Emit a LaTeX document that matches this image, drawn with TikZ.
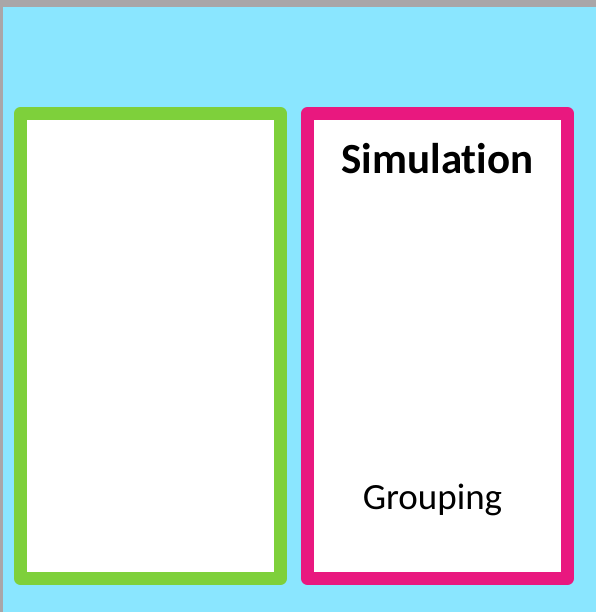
\documentclass[tikz,border=0pt]{standalone}
\usepackage{fontspec}
\setmainfont{Carlito}[Ligatures={NoCommon,NoDiscretionary}]
\usepackage{tikz}
\usetikzlibrary{positioning}
\definecolor{skyblue}{HTML}{8AE6FF}
\definecolor{framegray}{HTML}{A9A6A8}
\definecolor{leafgreen}{HTML}{7ED03B}
\definecolor{hotpink}{HTML}{E9187F}

\begin{document}
\begin{tikzpicture}[x=1pt, y=-1pt,
    panel/.style={draw, fill=white, line width=13pt, line join=round, minimum width=260pt, minimum height=465pt, inner sep=0pt},
    title/.style={font=\bfseries\fontsize{43}{50}\selectfont},
    caption/.style={font=\fontsize{37}{44}\selectfont}]
        % Background
        \useasboundingbox (0, 0) rectangle (596, 612);
        \fill[skyblue] (0, 0) rectangle (596, 612);
        \fill[framegray] (0, 0) rectangle (596, 7);
        \fill[framegray] (0, 0) rectangle (3, 612);

        % Panels
        \node[panel, draw=leafgreen] (left) at (150.5, 346) {};
        \node[panel, draw=hotpink] (right) at (437.5, 346) {};

        % Labels
        \node[title] (sim) at (437.5, 159) {Simulation};
        \node[caption] (group) at (432.5, 500) {Grouping};
    \end{tikzpicture}
\end{document}
